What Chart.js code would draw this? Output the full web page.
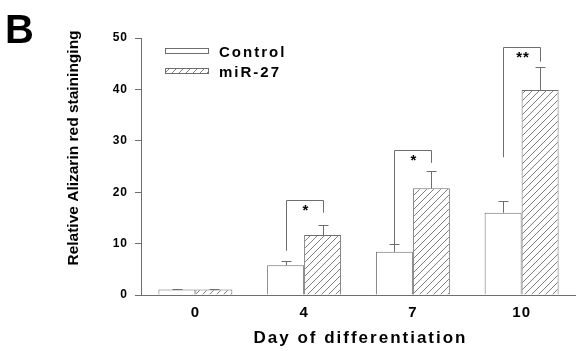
<!DOCTYPE html>
<html>
<head>
<meta charset="utf-8">
<script src="https://cdn.jsdelivr.net/npm/chart.js@4"></script>
<style>
  html, body { margin: 0; padding: 0; background: #fff; }
  canvas { display: block; }
</style>
</head>
<body>
<canvas id="stainChart" width="576" height="351"></canvas>
<script>
  "use strict";

  // values
  const days = ["0", "4", "7", "10"];
  const controlMean = [1.05, 5.8, 8.4, 16.0];
  const controlErr = [0.1, 0.75, 1.45, 2.2];
  const mirMean = [1.05, 11.65, 20.75, 39.9];
  const mirErr = [0.1, 1.95, 3.45, 4.5];
  const yTicks = [0, 10, 20, 30, 40, 50];

  // significance brackets (category index, top, left foot, right foot, mark)
  const sigIndex = [1, 2, 3];
  const sigTop = [18.5, 28.2, 48.2];
  const sigLeftEnd = [8.6, 9.9, 26.8];
  const sigRightEnd = [16.0, 25.7, 45.4];
  const sigMark = ["*", "*", "**"];

  const seriesNames = ["Control", "miR-27"];
  const LINE = "#6e6e6e";
  const FONT = "'Liberation Sans', Arial, sans-serif";

  function hatchPattern() {
    const c = document.createElement("canvas");
    c.width = 7;
    c.height = 7;
    const g = c.getContext("2d");
    g.fillStyle = "#fff";
    g.fillRect(0, 0, 7, 7);
    g.strokeStyle = "#707070";
    g.lineWidth = 0.9;
    g.beginPath();
    g.moveTo(-1, 8); g.lineTo(8, -1);
    g.moveTo(-1, 1); g.lineTo(1, -1);
    g.moveTo(6, 8); g.lineTo(8, 6);
    g.stroke();
    return g.createPattern(c, "repeat");
  }

  const hatch = hatchPattern();
  const crisp = (v) => Math.round(v) + 0.5;

  // error bars + brackets + titles + legend
  const decorations = {
    id: "decorations",
    beforeDraw(chart) {
      chart.ctx.letterSpacing = "1px";
    },
    afterDatasetsDraw(chart) {
      const ctx = chart.ctx;
      const y = chart.scales.y;
      const errs = [controlErr, mirErr];
      const means = [controlMean, mirMean];
      ctx.save();
      ctx.strokeStyle = LINE;
      ctx.lineWidth = 1;
      [0, 1].forEach((d) => {
        chart.getDatasetMeta(d).data.forEach((bar, i) => {
          const x = crisp(bar.x);
          const top = y.getPixelForValue(means[d][i] + errs[d][i]);
          ctx.beginPath();
          ctx.moveTo(x, bar.y);
          ctx.lineTo(x, crisp(top));
          ctx.moveTo(x - 5, crisp(top));
          ctx.lineTo(x + 5, crisp(top));
          ctx.stroke();
        });
      });

      sigIndex.forEach((ci, k) => {
        const lx = crisp(chart.getDatasetMeta(0).data[ci].x);
        const rx = crisp(chart.getDatasetMeta(1).data[ci].x);
        const ty = crisp(y.getPixelForValue(sigTop[k]));
        ctx.beginPath();
        ctx.moveTo(lx, y.getPixelForValue(sigLeftEnd[k]));
        ctx.lineTo(lx, ty);
        ctx.lineTo(rx, ty);
        ctx.lineTo(rx, y.getPixelForValue(sigRightEnd[k]));
        ctx.stroke();
        ctx.fillStyle = "#000";
        ctx.font = "bold 15px " + FONT;
        ctx.letterSpacing = "1px";
        ctx.textAlign = "center";
        ctx.textBaseline = "top";
        ctx.fillText(sigMark[k], (lx + rx) / 2 + 1, ty + 3);
      });
      ctx.restore();
    },
    afterDraw(chart) {
      const ctx = chart.ctx;
      const area = chart.chartArea;
      ctx.save();
      ctx.fillStyle = "#000";

      // panel letter
      ctx.letterSpacing = "0px";
      ctx.font = "bold 40px " + FONT;
      ctx.textAlign = "left";
      ctx.textBaseline = "alphabetic";
      ctx.fillText("B", 5, 43);

      // x title
      ctx.font = "bold 17px " + FONT;
      ctx.letterSpacing = "2px";
      ctx.textAlign = "center";
      ctx.fillText("Day of differentiation", (area.left + area.right) / 2 + 2, 343);

      // y title
      ctx.save();
      ctx.translate(78, 148);
      ctx.rotate(-Math.PI / 2);
      ctx.letterSpacing = "0px";
      ctx.font = "bold 15.5px " + FONT;
      ctx.fillText("Relative Alizarin red staininging", 0, 0);
      ctx.restore();

      // legend
      const fills = ["#fff", hatch];
      const rows = [48, 68];
      ctx.font = "bold 15px " + FONT;
      ctx.letterSpacing = "2px";
      ctx.textAlign = "left";
      ctx.strokeStyle = LINE;
      ctx.lineWidth = 1;
      seriesNames.forEach((name, i) => {
        ctx.fillStyle = fills[i];
        ctx.fillRect(165, rows[i], 44, 6);
        ctx.strokeRect(165.5, rows[i] + 0.5, 43, 5);
        ctx.fillStyle = "#000";
        ctx.fillText(name, 219, rows[i] + 8.5);
      });
      ctx.restore();
    },
  };

  new Chart(document.getElementById("stainChart"), {
    type: "bar",
    data: {
      labels: days,
      datasets: [
        {
          label: seriesNames[0],
          data: controlMean,
          backgroundColor: "#fff",
          borderColor: LINE,
          borderWidth: 1,
          categoryPercentage: 0.68,
          barPercentage: 1.0,
        },
        {
          label: seriesNames[1],
          data: mirMean,
          backgroundColor: hatch,
          borderColor: LINE,
          borderWidth: 1,
          categoryPercentage: 0.68,
          barPercentage: 1.0,
        },
      ],
    },
    options: {
      responsive: false,
      animation: false,
      layout: { padding: { top: 38, left: 0, right: 0, bottom: 0 } },
      plugins: {
        legend: { display: false },
        tooltip: { enabled: false },
      },
      scales: {
        x: {
          grid: { display: false },
          border: { display: true, color: LINE, width: 1 },
          ticks: { color: "#000", font: { family: FONT, size: 15, weight: "bold" }, padding: 1 },
          afterFit: (scale) => { scale.height = 56; },
        },
        y: {
          min: 0,
          max: 50,
          afterBuildTicks: (scale) => { scale.ticks = yTicks.map((v) => ({ value: v })); },
          grid: { drawOnChartArea: false, drawTicks: true, tickLength: 6, color: LINE },
          border: { display: true, color: LINE, width: 1 },
          ticks: { color: "#000", font: { family: FONT, size: 12, weight: "bold" }, padding: 7 },
          afterFit: (scale) => { scale.width = 141; },
        },
      },
    },
    plugins: [decorations],
  });
</script>
</body>
</html>
